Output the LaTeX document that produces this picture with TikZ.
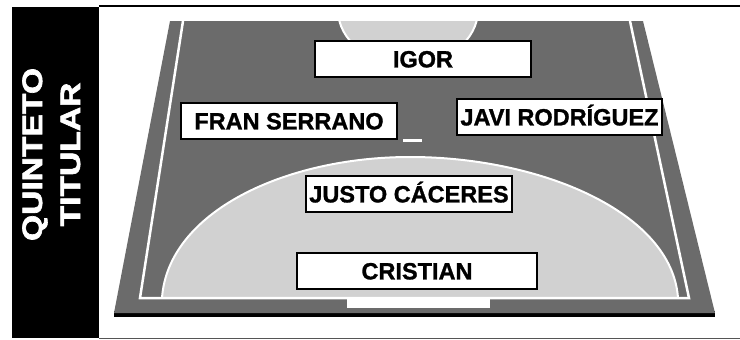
\documentclass[tikz,border=0pt]{standalone}
\usepackage{fontspec}
\setmainfont{Liberation Sans}
\newfontfamily\heavyfont{Liberation Sans Bold}[FakeBold=1.2]
\newfontfamily\bandfont{Liberation Sans Bold}[FakeBold=2]
\definecolor{courtdark}{RGB}{107,107,107}
\definecolor{courtlight}{RGB}{209,209,209}
\definecolor{framegray}{RGB}{85,85,85}
\begin{document}
\begin{tikzpicture}[x=1pt,y=-1pt,
  player/.style={draw=black, line width=1.2pt, fill=white, inner sep=0pt,
    font=\heavyfont\fontsize{23.5}{24}\selectfont, text height=16.8pt, text depth=0pt},
  courtline/.style={draw=white, line width=2.5pt},
  bandtext/.style={text=white, rotate=90, inner sep=0pt,
    font=\bandfont\fontsize{28}{28}\selectfont, text height=20pt, text depth=0pt}]
\useasboundingbox (0,0) rectangle (740,340);
% side band and frame
\fill[black] (12,7) rectangle (99,338);
\draw[black, line width=2pt] (99,6.3) -- (740,6.3);
\draw[framegray, line width=1pt] (99,338.3) -- (740,338.3);
\node[bandtext] (quinteto) at (32,154.5) {\scalebox{1.2}[1]{QUINTETO}};
\node[bandtext] (titular) at (70,154.5) {\scalebox{1.2}[1]{TITULAR}};
% court slab
\fill[black] (114,311) rectangle (715,317);
\fill[courtdark] (170,21) -- (643,21) -- (715,313) -- (114,313) -- cycle;
% penalty area (bottom)
\fill[courtlight] (162,298) .. controls (168,212) and (285,157) .. (410,157)
  .. controls (540,157) and (672,212) .. (678,298) -- cycle;
\draw[white, line width=2pt] (162,298) .. controls (168,212) and (285,157) .. (410,157)
  .. controls (540,157) and (672,212) .. (678,298);
% penalty area (top, cut)
\begin{scope}
  \clip (170,21) rectangle (643,313);
  \draw[fill=courtlight, draw=white, line width=2pt] (408,10) ellipse [x radius=70pt, y radius=55pt];
\end{scope}
% boundary lines
\draw[courtline] (183,21) -- (140,298) -- (689,298) -- (630,21);
% goal and centre mark
\fill[white] (347,298) rectangle (490,308);
\fill[white] (403,139) rectangle (422,142);
% players
\node[player, minimum width=216pt, minimum height=36pt] (igor) at (423,59) {IGOR};
\node[player, minimum width=216pt, minimum height=36pt] (fran) at (289,121) {FRAN SERRANO};
\node[player, minimum width=205pt, minimum height=36pt] (javi) at (559.5,117) {JAVI RODRÍGUEZ};
\node[player, minimum width=206pt, minimum height=36pt] (justo) at (409,194) {JUSTO CÁCERES};
\node[player, minimum width=240pt, minimum height=36pt] (cristian) at (417,271) {CRISTIAN};
\end{tikzpicture}
\end{document}
